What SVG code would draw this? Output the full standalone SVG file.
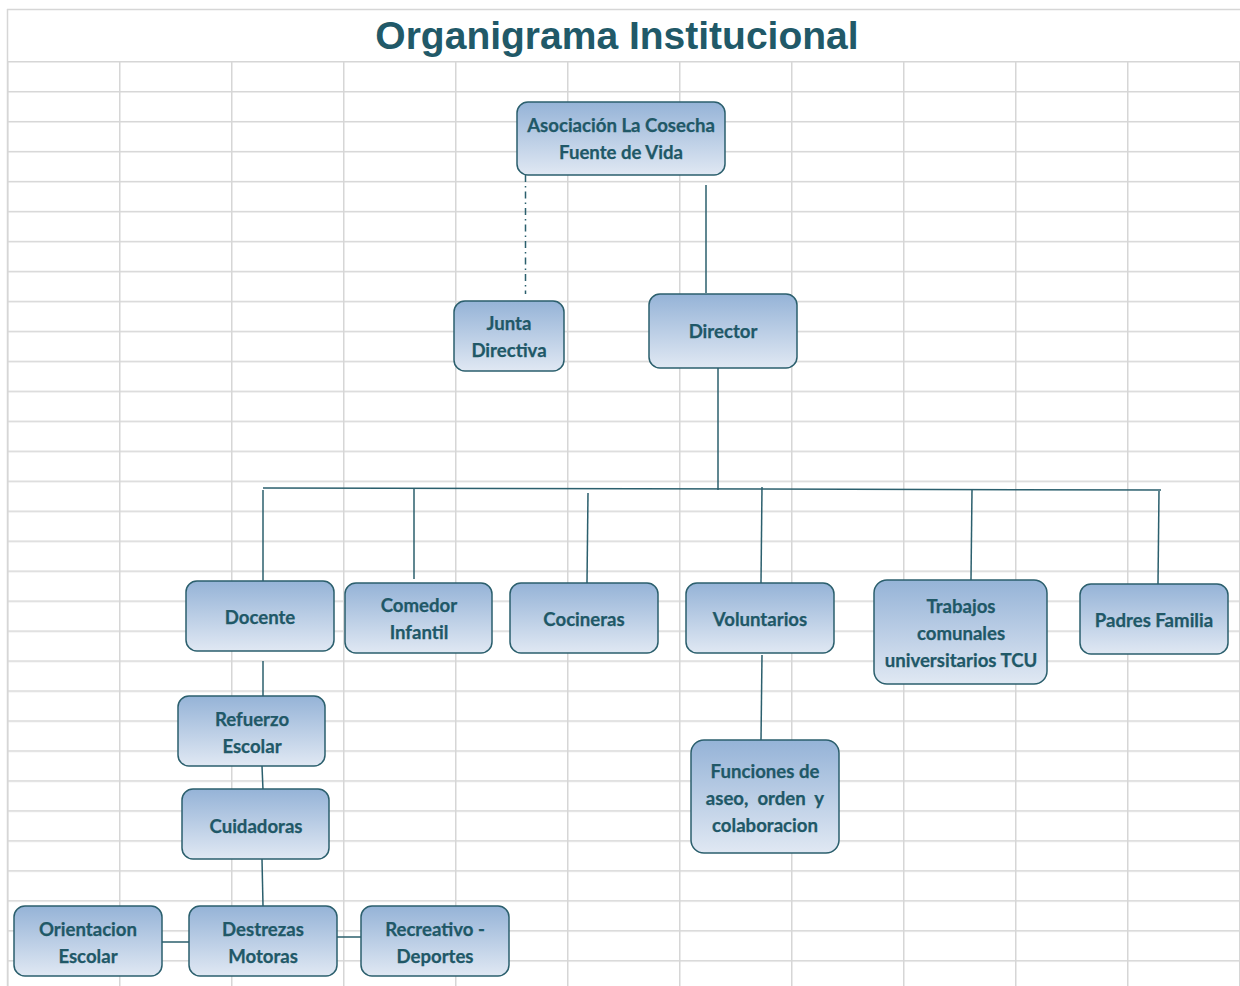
<svg xmlns="http://www.w3.org/2000/svg" width="1240" height="986" viewBox="0 0 1240 986">
<defs>
<linearGradient id="g" x1="0" y1="0" x2="0" y2="1">
<stop offset="0" stop-color="#95b3d7"/>
<stop offset="1" stop-color="#e0e8f3"/>
</linearGradient>
<pattern id="grid" x="7" y="61" width="112" height="29.97" patternUnits="userSpaceOnUse">
<path d="M0 0H112M0 0V29.97" fill="none" stroke="#d6d6d6" stroke-width="3"/>
</pattern>
</defs>
<style>
.n rect{fill:url(#g);stroke:#2b5f6d;stroke-width:1.5}
.n text{font-family:Lato,"Liberation Sans",sans-serif;font-weight:bold;font-size:18.6px;fill:#205867;text-anchor:middle;stroke:#205867;stroke-width:0.25}
.c line{stroke:#2b5f6d;stroke-width:1.5}
.gl{stroke:#d6d6d6;stroke-width:1.5}
</style>
<rect width="1240" height="986" fill="#fff"/>
<g id="grid-lines">
<rect x="7" y="61" width="1233" height="925" fill="url(#grid)"/>
<line class="gl" x1="7" y1="9.5" x2="1240" y2="9.5"/>
<line class="gl" x1="7.5" y1="9" x2="7.5" y2="986"/>
</g>
<text x="617" y="49" font-family="Liberation Sans,Arial,sans-serif" font-weight="bold" font-size="39" fill="#215968" text-anchor="middle">Organigrama Institucional</text>
<g id="connectors" class="c">
<line x1="525.5" y1="175" x2="525.5" y2="294" stroke-dasharray="7 4 1.5 4"/>
<line x1="706" y1="185" x2="706" y2="293"/>
<line x1="718" y1="368" x2="718" y2="490"/>
<line x1="263" y1="488" x2="1161" y2="490"/>
<line x1="263" y1="490" x2="263" y2="583"/>
<line x1="414" y1="489" x2="414" y2="579"/>
<line x1="588" y1="493" x2="587" y2="583"/>
<line x1="762" y1="487" x2="761" y2="583"/>
<line x1="972" y1="490" x2="971" y2="580"/>
<line x1="1159" y1="491" x2="1158" y2="584"/>
<line x1="263" y1="661" x2="263" y2="696"/>
<line x1="262" y1="766" x2="263" y2="790"/>
<line x1="262" y1="859" x2="263" y2="906"/>
<line x1="162" y1="942" x2="189" y2="942"/>
<line x1="337" y1="937" x2="361" y2="937"/>
<line x1="762" y1="655" x2="761" y2="740"/>
</g>
<g id="n-asociacion" class="n"><rect x="517" y="102" width="208" height="73" rx="11"/><text x="621" y="132">Asociación La Cosecha</text><text x="621" y="159">Fuente de Vida</text></g>
<g id="n-junta" class="n"><rect x="454" y="301" width="110" height="70" rx="11"/><text x="509" y="330">Junta</text><text x="509" y="357">Directiva</text></g>
<g id="n-director" class="n"><rect x="649" y="294" width="148" height="74" rx="11"/><text x="723" y="338">Director</text></g>
<g id="n-docente" class="n"><rect x="186" y="581" width="148" height="70" rx="11"/><text x="260" y="624">Docente</text></g>
<g id="n-comedor" class="n"><rect x="345" y="583" width="147" height="70" rx="11"/><text x="419" y="612">Comedor</text><text x="419" y="639">Infantil</text></g>
<g id="n-cocineras" class="n"><rect x="510" y="583" width="148" height="70" rx="11"/><text x="584" y="626">Cocineras</text></g>
<g id="n-voluntarios" class="n"><rect x="686" y="583" width="148" height="70" rx="11"/><text x="760" y="626">Voluntarios</text></g>
<g id="n-tcu" class="n"><rect x="874" y="580" width="173" height="104" rx="13"/><text x="961" y="613">Trabajos</text><text x="961" y="640">comunales</text><text x="961" y="667">universitarios TCU</text></g>
<g id="n-padres" class="n"><rect x="1080" y="584" width="148" height="70" rx="11"/><text x="1154" y="627">Padres Familia</text></g>
<g id="n-refuerzo" class="n"><rect x="178" y="696" width="147" height="70" rx="11"/><text x="252" y="726">Refuerzo</text><text x="252" y="753">Escolar</text></g>
<g id="n-cuidadoras" class="n"><rect x="182" y="789" width="147" height="70" rx="11"/><text x="256" y="833">Cuidadoras</text></g>
<g id="n-funciones" class="n"><rect x="691" y="740" width="148" height="113" rx="13"/><text x="765" y="778">Funciones de</text><text x="765" y="805" xml:space="preserve" style="white-space:pre">aseo,  orden  y</text><text x="765" y="832">colaboracion</text></g>
<g id="n-orientacion" class="n"><rect x="14" y="906" width="148" height="70" rx="11"/><text x="88" y="936">Orientacion</text><text x="88" y="963">Escolar</text></g>
<g id="n-destrezas" class="n"><rect x="189" y="906" width="148" height="70" rx="11"/><text x="263" y="936">Destrezas</text><text x="263" y="963">Motoras</text></g>
<g id="n-recreativo" class="n"><rect x="361" y="906" width="148" height="70" rx="11"/><text x="435" y="936">Recreativo -</text><text x="435" y="963">Deportes</text></g>
</svg>
